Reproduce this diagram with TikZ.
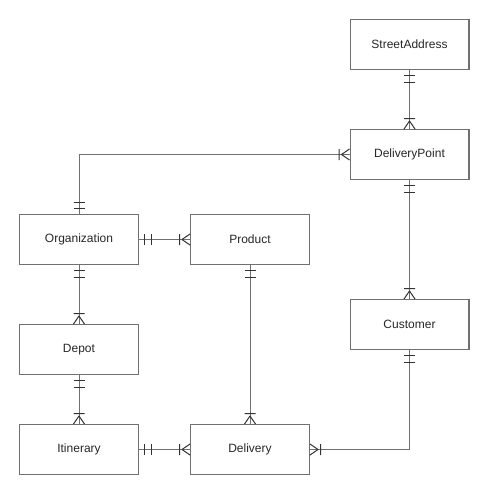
\documentclass[tikz,border=0pt]{standalone}
\usepackage{fontspec}
\setsansfont{Liberation Sans}
\usepackage{tikz}
\usetikzlibrary{positioning}

\definecolor{linegray}{RGB}{112,112,112}

% ER line ends: exactly one / one or many
\pgfdeclarearrow{
  name = erone,
  setup code = {
    \pgfarrowssettipend{0pt}
    \pgfarrowssetlineend{0pt}
    \pgfarrowssetbackend{-12.5pt}
    \pgfarrowssetvisualbackend{-12pt}
    \pgfarrowshullpoint{0pt}{5.5pt}
    \pgfarrowshullpoint{0pt}{-5.5pt}
    \pgfarrowshullpoint{-12.5pt}{5.5pt}
    \pgfarrowshullpoint{-12.5pt}{-5.5pt}
  },
  drawing code = {
    \pgfsetdash{}{0pt}
    \pgfpathmoveto{\pgfpoint{-5.5pt}{5.5pt}}
    \pgfpathlineto{\pgfpoint{-5.5pt}{-5.5pt}}
    \pgfpathmoveto{\pgfpoint{-12pt}{5.5pt}}
    \pgfpathlineto{\pgfpoint{-12pt}{-5.5pt}}
    \pgfusepathqstroke
  }
}
\pgfdeclarearrow{
  name = ermany,
  setup code = {
    \pgfarrowssettipend{0pt}
    \pgfarrowssetlineend{0pt}
    \pgfarrowssetbackend{-11pt}
    \pgfarrowssetvisualbackend{-10.5pt}
    \pgfarrowshullpoint{0pt}{5.5pt}
    \pgfarrowshullpoint{0pt}{-5.5pt}
    \pgfarrowshullpoint{-11pt}{5.5pt}
    \pgfarrowshullpoint{-11pt}{-5.5pt}
  },
  drawing code = {
    \pgfsetdash{}{0pt}
    \pgfsetroundjoin
    \pgfpathmoveto{\pgfpoint{0pt}{5.5pt}}
    \pgfpathlineto{\pgfpoint{-8pt}{0pt}}
    \pgfpathlineto{\pgfpoint{0pt}{-5.5pt}}
    \pgfpathmoveto{\pgfpoint{-10.5pt}{5.5pt}}
    \pgfpathlineto{\pgfpoint{-10.5pt}{-5.5pt}}
    \pgfusepathqstroke
  }
}

\begin{document}
\begin{tikzpicture}[
  x=1pt, y=-1pt,
  node distance=59pt and 51pt,
  entity/.style={rectangle, draw=linegray, line width=1.4pt, minimum width=118.6pt, minimum height=49.6pt, text=black!85, font=\sffamily\fontsize{12}{14}\selectfont},
  rel/.style={draw=linegray, line width=1pt, arrows={erone[color=black!80]-ermany[color=black!80]}}
]
\useasboundingbox (0,0) rectangle (490,495);

% right column
\node[entity] (addr) at (409.5,44.5) {StreetAddress};
\node[entity, below=of addr] (dpoint) {DeliveryPoint};
\node[entity, below=119pt of dpoint] (cust) {Customer};

% left part
\node[entity] (org) at (79,239.5) {Organization};
\node[entity, right=of org] (prod) {Product};
\node[entity, below=of org] (depot) {Depot};
\node[entity, below=49pt of depot] (itin) {Itinerary};
\node[entity, right=of itin] (deliv) {Delivery};

% relationships
\draw[rel] (addr) -- (dpoint);
\draw[rel] (org.north) |- (dpoint.west);
\draw[rel] (org) -- (prod);
\draw[rel] (org) -- (depot);
\draw[rel] (dpoint) -- (cust);
\draw[rel] (prod) -- (deliv);
\draw[rel] (depot) -- (itin);
\draw[rel] (itin) -- (deliv);
\draw[rel] (cust.south) |- (deliv.east);
\end{tikzpicture}
\end{document}
